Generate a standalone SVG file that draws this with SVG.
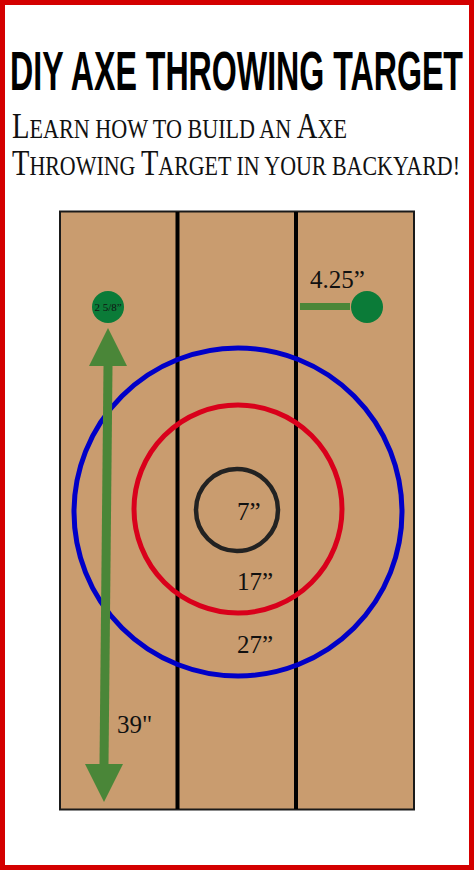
<svg xmlns="http://www.w3.org/2000/svg" width="474" height="870" viewBox="0 0 474 870">
<style>
.dim{font-family:"Liberation Serif","Times New Roman",serif;fill:#111;font-size:25px}
.sc{font-family:"Liberation Serif","Times New Roman",serif;fill:#111}
.ring{fill:none}
</style>
<rect x="0" y="0" width="474" height="870" fill="#fff"/>
<rect x="2.5" y="2.5" width="469" height="865" fill="none" stroke="#d40000" stroke-width="5"/>
<g id="title">
<text x="10" y="90" font-family="'Liberation Sans',Arial,sans-serif" font-weight="bold" font-size="56" textLength="453" lengthAdjust="spacingAndGlyphs" fill="#000">DIY AXE THROWING TARGET</text>
</g>
<g id="subtitle">
<text class="sc" x="12" y="138" textLength="335" lengthAdjust="spacingAndGlyphs"><tspan font-size="35">L</tspan><tspan font-size="27">EARN HOW TO BUILD AN </tspan><tspan font-size="35">A</tspan><tspan font-size="27">XE</tspan></text>
<text class="sc" x="12" y="175" textLength="448" lengthAdjust="spacingAndGlyphs"><tspan font-size="35">T</tspan><tspan font-size="27">HROWING </tspan><tspan font-size="35">T</tspan><tspan font-size="27">ARGET IN YOUR BACKYARD!</tspan></text>
</g>
<g id="board">
<rect x="60" y="211.5" width="354" height="598" fill="#c99c6f" stroke="#1a1a1a" stroke-width="2"/>
<line x1="177.5" y1="212" x2="177.5" y2="809" stroke="#000" stroke-width="4"/>
<line x1="296" y1="212" x2="296" y2="809" stroke="#000" stroke-width="4"/>
</g>
<g id="rings">
<circle class="ring" cx="238" cy="512" r="164" stroke="#0000c8" stroke-width="5"/>
<circle class="ring" cx="238" cy="509" r="104" stroke="#d9001b" stroke-width="5"/>
<circle class="ring" cx="237" cy="510" r="41" stroke="#222" stroke-width="4.5"/>
</g>
<g id="labels">
<text class="dim" x="237" y="520">7”</text>
<text class="dim" x="237" y="590">17”</text>
<text class="dim" x="237" y="653">27”</text>
<text class="dim" x="117" y="733">39"</text>
<text class="dim" x="310" y="288">4.25”</text>
</g>
<g id="connectors">
<polygon points="103.5,366 112.5,366 108.5,764 99.5,764" fill="#4a8638"/>
<polygon points="108,328 127,366 89,366" fill="#4a8638"/>
<polygon points="104,802 123,764 85,764" fill="#4a8638"/>
<rect x="300" y="303" width="50" height="7" fill="#4a8638"/>
</g>
<g id="dot-left">
<circle cx="108" cy="307" r="16" fill="#0b7b38"/>
<text x="108" y="311" text-anchor="middle" font-family="'Liberation Serif',serif" font-size="11" fill="#111">2 5/8”</text>
</g>
<g id="dot-right">
<circle cx="367" cy="307" r="16" fill="#0b7b38"/>
</g>
</svg>
